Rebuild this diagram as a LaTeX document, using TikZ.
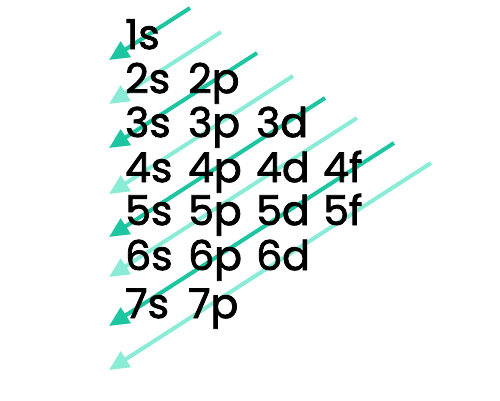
\documentclass[tikz,border=0pt]{standalone}
\usepackage{fontspec}
\setmainfont{Poppins}
\newfontfamily\orbfont{Poppins}[RawFeature={embolden=2.0}]
\usetikzlibrary{arrows.meta}
\definecolor{tealdark}{RGB}{29,198,160}
\definecolor{teallight}{RGB}{138,236,214}
\begin{document}
\begin{tikzpicture}[x=1pt,y=-1pt,
  orb/.style={anchor=base west,inner sep=0pt,font=\orbfont\fontsize{41}{41}\selectfont,text=black},
  arr/.style={line width=4pt,-{Triangle[length=20pt,width=18pt]}},
  darkarr/.style={arr,draw=tealdark,fill=tealdark},
  lightarr/.style={arr,draw=teallight,fill=teallight}]
\useasboundingbox (0,0) rectangle (500,400);
% arrow coordinates
\coordinate (a1) at (190,8);   \coordinate (b1) at (109,60);
\coordinate (a2) at (221,32);  \coordinate (b2) at (109,104);
\coordinate (a3) at (257,53);  \coordinate (b3) at (109,148);
\coordinate (a4) at (293,76);  \coordinate (b4) at (109,194);
\coordinate (a5) at (325,98);  \coordinate (b5) at (109,237);
\coordinate (a6) at (357,118); \coordinate (b6) at (109,277);
\coordinate (a7) at (394,143); \coordinate (b7) at (109,326);
\coordinate (a8) at (431,163); \coordinate (b8) at (109,370);
\draw[darkarr] (a1) -- (b1);
\draw[lightarr] (a2) -- (b2);
\draw[darkarr] (a3) -- (b3);
\draw[lightarr] (a4) -- (b4);
\draw[darkarr] (a5) -- (b5);
\draw[lightarr] (a6) -- (b6);
\draw[darkarr] (a7) -- (b7);
\draw[lightarr] (a8) -- (b8);
% orbitals
\node[orb] (s1) at (125,49) {1s};
\node[orb] (s2) at (125,93) {2s};
\node[orb] (p2) at (188,93) {2p};
\node[orb] (s3) at (125,137) {3s};
\node[orb] (p3) at (188,137) {3p};
\node[orb] (d3) at (256,137) {3d};
\node[orb] (s4) at (125,182) {4s};
\node[orb] (p4) at (188,182) {4p};
\node[orb] (d4) at (256,182) {4d};
\node[orb] (f4) at (323,182) {4f};
\node[orb] (s5) at (125,225) {5s};
\node[orb] (p5) at (188,225) {5p};
\node[orb] (d5) at (256,225) {5d};
\node[orb] (f5) at (323,225) {5f};
\node[orb] (s6) at (125,270) {6s};
\node[orb] (p6) at (188,270) {6p};
\node[orb] (d6) at (256,270) {6d};
\node[orb] (s7) at (125,318) {7s};
\node[orb] (p7) at (188,318) {7p};
\end{tikzpicture}
\end{document}
